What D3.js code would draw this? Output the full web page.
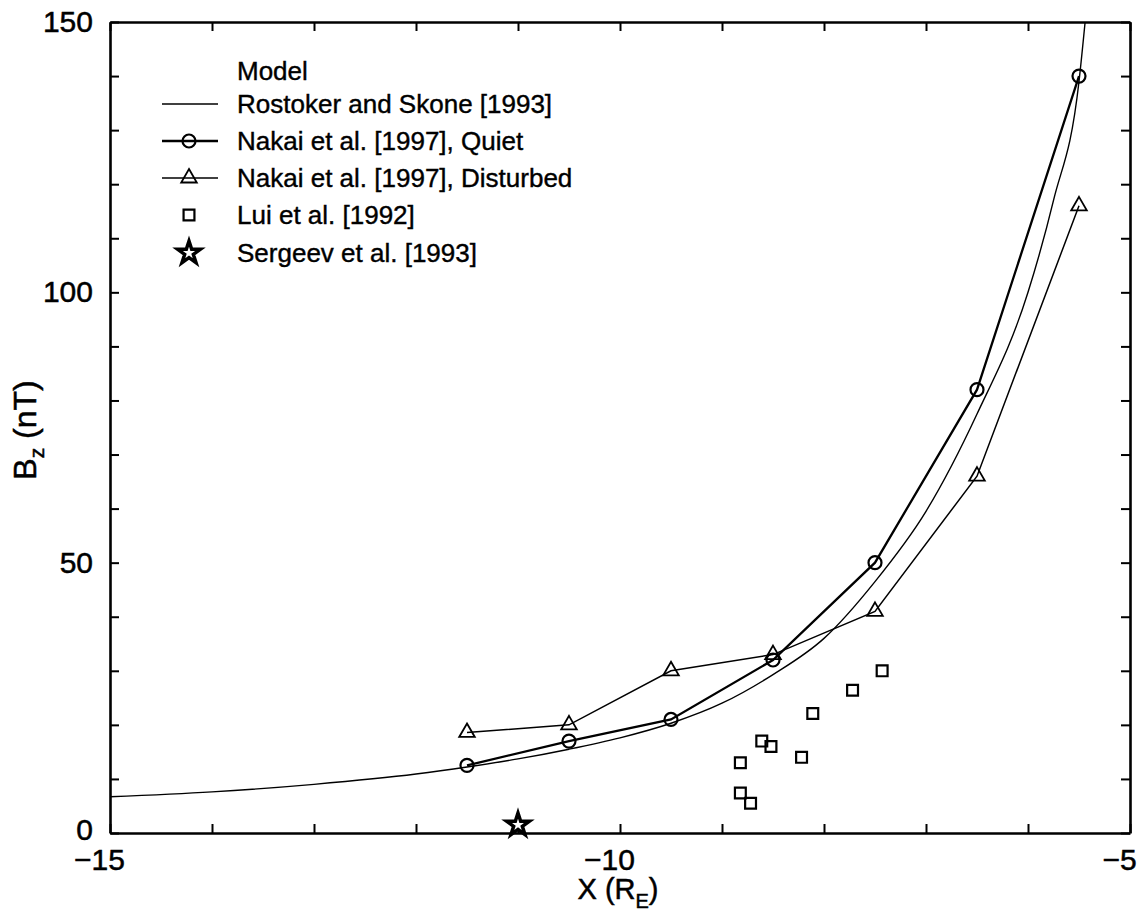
<!DOCTYPE html>
<html>
<head>
<meta charset="utf-8">
<script src="https://cdn.jsdelivr.net/npm/d3@7"></script>
<style>
  html, body { margin: 0; padding: 0; background: #fff; }
  svg { display: block; }
  text { font-family: "Liberation Sans", Arial, Helvetica, sans-serif; fill: #000; }
</style>
</head>
<body>
<svg id="chart" width="1141" height="912"></svg>
<script>
// Radial position along the tail (Earth radii) and Bz in nT
const nakaiX = [-11.5, -10.5, -9.5, -8.5, -7.5, -6.5, -5.5];
const nakaiQuiet = [12.5, 17, 21, 32, 50, 82, 140];
const nakaiDisturbed = [18.6, 20, 30, 33, 41, 66, 116];

// Rostoker and Skone model curve, sampled
const modelX = [-15, -14, -13, -12, -11.5, -11, -10.5, -10, -9.5, -9, -8.5, -8, -7.5, -7, -6.5, -6, -5.75, -5.5, -5.44];
const modelBz = [6.7, 7.6, 9.0, 10.9, 12.2, 13.7, 15.5, 17.6, 20.3, 24.0, 29.3, 36.0, 46.5, 59.5, 77.5, 100, 117, 139, 150];

// Lui et al. observations
const luiX = [-8.82, -8.82, -8.72, -8.61, -8.52, -8.22, -8.11, -7.72, -7.43];
const luiBz = [13.0, 7.4, 5.5, 17.0, 16.0, 14.0, 22.1, 26.4, 30.0];

// Sergeev et al. observation
const sergeevX = [-11.0];
const sergeevBz = [1.5];

const xTicks = [-15, -14, -13, -12, -11, -10, -9, -8, -7, -6, -5];
const xTickLabels = [-15, -10, -5];
const yTicks = [0, 10, 20, 30, 40, 50, 60, 70, 80, 90, 100, 110, 120, 130, 140, 150];
const yTickLabels = [0, 50, 100, 150];

const legendTitle = "Model";
const legendLabels = [
  "Rostoker and Skone [1993]",
  "Nakai et al. [1997], Quiet",
  "Nakai et al. [1997], Disturbed",
  "Lui et al. [1992]",
  "Sergeev et al. [1993]"
];

const svg = d3.select("#chart");
const plotLeft = 110, plotRight = 1130, plotTop = 22, plotBottom = 833;

const x = d3.scaleLinear().domain([-15, -5]).range([plotLeft, plotRight]);
const y = d3.scaleLinear().domain([0, 150]).range([plotBottom, plotTop]);

const fmt = d => "\u2212" + Math.abs(d);

svg.append("defs").append("clipPath").attr("id", "plotclip")
  .append("rect").attr("x", plotLeft).attr("y", plotTop)
  .attr("width", plotRight - plotLeft).attr("height", plotBottom - plotTop);

const plot = svg.append("g").attr("clip-path", "url(#plotclip)");

const line = d3.line().x(d => x(d[0])).y(d => y(d[1]));
const smooth = d3.line().x(d => x(d[0])).y(d => y(d[1])).curve(d3.curveMonotoneX);

// model curve
plot.append("path")
  .datum(modelX.map((v, i) => [v, modelBz[i]]))
  .attr("d", smooth)
  .attr("fill", "none").attr("stroke", "#000").attr("stroke-width", 1.4);

// Nakai disturbed
const distData = nakaiX.map((v, i) => [v, nakaiDisturbed[i]]);
plot.append("path").datum(distData).attr("d", line)
  .attr("fill", "none").attr("stroke", "#000").attr("stroke-width", 1.5);

// Nakai quiet
const quietData = nakaiX.map((v, i) => [v, nakaiQuiet[i]]);
plot.append("path").datum(quietData).attr("d", line)
  .attr("fill", "none").attr("stroke", "#000").attr("stroke-width", 2.3);

const circleSym = d3.symbol(d3.symbolCircle, Math.PI * 6.5 * 6.5);
const triSym = d3.symbol(d3.symbolTriangle, 105);
const sqSym = d3.symbol(d3.symbolSquare, 118);
const starSym = d3.symbol(d3.symbolStar, 160);

plot.selectAll(".q").data(quietData).join("path")
  .attr("transform", d => `translate(${x(d[0])},${y(d[1])})`)
  .attr("d", circleSym).attr("fill", "none").attr("stroke", "#000").attr("stroke-width", 2.2);

plot.selectAll(".t").data(distData).join("path")
  .attr("transform", d => `translate(${x(d[0])},${y(d[1])})`)
  .attr("d", triSym).attr("fill", "none").attr("stroke", "#000").attr("stroke-width", 1.8);

plot.selectAll(".s").data(luiX.map((v, i) => [v, luiBz[i]])).join("path")
  .attr("transform", d => `translate(${x(d[0])},${y(d[1])})`)
  .attr("d", sqSym).attr("fill", "none").attr("stroke", "#000").attr("stroke-width", 2.2);

// axes with inward ticks on all four sides
const axisStyle = g => {
  g.select(".domain").attr("stroke", "#000").attr("stroke-width", 2.6);
  g.selectAll(".tick line").attr("stroke", "#000").attr("stroke-width", 2);
};

svg.append("g").attr("transform", `translate(0,${plotBottom})`)
  .call(d3.axisBottom(x).tickValues(xTicks).tickSizeInner(-9).tickSizeOuter(0)
    .tickPadding(16).tickFormat(d => xTickLabels.includes(d) ? fmt(d) : ""))
  .call(axisStyle)
  .call(g => g.selectAll("text").attr("font-size", 30).attr("font-family", null)
    .attr("dx", -11).attr("stroke", "#000").attr("stroke-width", 0.5));

svg.append("g").attr("transform", `translate(0,${plotTop})`)
  .call(d3.axisTop(x).tickValues(xTicks).tickSizeInner(-9).tickSizeOuter(0).tickFormat(""))
  .call(axisStyle);

svg.append("g").attr("transform", `translate(${plotLeft},0)`)
  .call(d3.axisLeft(y).tickValues(yTicks).tickSizeInner(-9).tickSizeOuter(0)
    .tickPadding(17).tickFormat(d => yTickLabels.includes(d) ? d : ""))
  .call(axisStyle)
  .call(g => g.selectAll("text").attr("font-size", 30).attr("font-family", null)
    .attr("stroke", "#000").attr("stroke-width", 0.5))
  .call(g => g.selectAll(".tick").filter(d => d === 0).select("text").attr("dy", "0.2em"));

svg.append("g").attr("transform", `translate(${plotRight},0)`)
  .call(d3.axisRight(y).tickValues(yTicks).tickSizeInner(-9).tickSizeOuter(0).tickFormat(""))
  .call(axisStyle);

// Sergeev star sits on the bottom axis, drawn above it
svg.selectAll(".st").data(sergeevX.map((v, i) => [v, sergeevBz[i]])).join("path")
  .attr("transform", d => `translate(${x(d[0])},${y(d[1])})`)
  .attr("d", starSym).attr("fill", "#fff").attr("stroke", "#000").attr("stroke-width", 3.5);

// axis titles
const yl = svg.append("text")
  .attr("transform", "translate(36,430) rotate(-90)")
  .attr("text-anchor", "middle").attr("font-size", 32)
  .attr("stroke", "#000").attr("stroke-width", 0.5);
yl.append("tspan").text("B");
yl.append("tspan").attr("font-size", 21).attr("dy", 8).text("z");
yl.append("tspan").attr("dy", -8).text(" (nT)");

const xl = svg.append("text")
  .attr("x", 618).attr("y", 899)
  .attr("text-anchor", "middle").attr("font-size", 29)
  .attr("stroke", "#000").attr("stroke-width", 0.5);
xl.append("tspan").text("X (R");
xl.append("tspan").attr("font-size", 20).attr("dy", 9).text("E");
xl.append("tspan").attr("dy", -9).text(")");

// legend
const legend = svg.append("g");
const lx = 237, rowY = [113, 150, 187, 224, 262];
legend.append("text").attr("x", lx).attr("y", 80).attr("font-size", 26)
  .attr("stroke", "#000").attr("stroke-width", 0.4).text(legendTitle);
legendLabels.forEach((t, i) => {
  legend.append("text").attr("x", lx).attr("y", rowY[i]).attr("font-size", 26)
    .attr("stroke", "#000").attr("stroke-width", 0.4).text(t);
});
const ly = rowY.map(v => v - 9);
legend.append("line").attr("x1", 162).attr("x2", 218).attr("y1", ly[0]).attr("y2", ly[0])
  .attr("stroke", "#000").attr("stroke-width", 1.4);
legend.append("line").attr("x1", 162).attr("x2", 218).attr("y1", ly[1]).attr("y2", ly[1])
  .attr("stroke", "#000").attr("stroke-width", 2.3);
legend.append("path").attr("transform", `translate(189,${ly[1]})`).attr("d", circleSym)
  .attr("fill", "none").attr("stroke", "#000").attr("stroke-width", 2.2);
legend.append("line").attr("x1", 162).attr("x2", 218).attr("y1", ly[2]).attr("y2", ly[2])
  .attr("stroke", "#000").attr("stroke-width", 1.5);
legend.append("path").attr("transform", `translate(189,${ly[2]})`).attr("d", triSym)
  .attr("fill", "none").attr("stroke", "#000").attr("stroke-width", 1.8);
legend.append("path").attr("transform", `translate(189,${ly[3]})`).attr("d", sqSym)
  .attr("fill", "none").attr("stroke", "#000").attr("stroke-width", 2.2);
legend.append("path").attr("transform", `translate(189,${ly[4]})`).attr("d", starSym)
  .attr("fill", "#fff").attr("stroke", "#000").attr("stroke-width", 3.5);
</script>
</body>
</html>
